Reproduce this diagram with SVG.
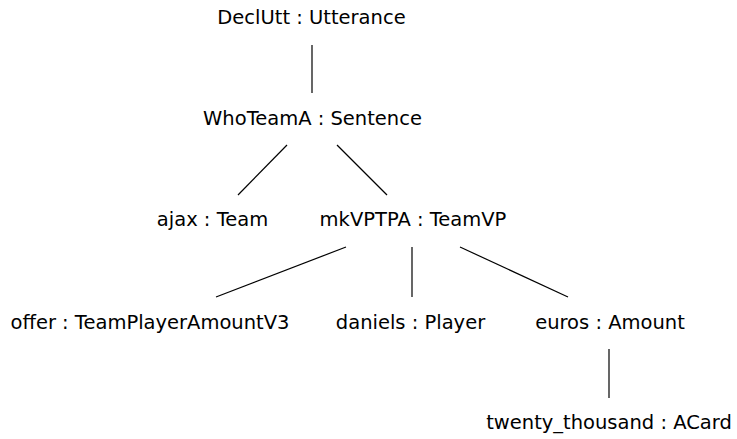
<svg xmlns="http://www.w3.org/2000/svg" width="737" height="439" viewBox="0 0 737 439">
  <style>
    text { font-family: "DejaVu Sans", sans-serif; font-size: 19.5px; fill: #000; text-anchor: middle; }
    .edge { stroke: #000; stroke-width: 1.2; fill: none; }
  </style>
  <rect width="737" height="439" fill="#fff"/>
  <!-- tree edges -->
  <g id="connectors">
    <line class="edge" x1="312" y1="45" x2="312" y2="93"/>
    <line class="edge" x1="287" y1="145" x2="238" y2="195"/>
    <line class="edge" x1="337" y1="145" x2="387" y2="195"/>
    <line class="edge" x1="346" y1="247" x2="216" y2="297"/>
    <line class="edge" x1="412" y1="247" x2="412" y2="297"/>
    <line class="edge" x1="460" y1="247" x2="568" y2="297"/>
    <line class="edge" x1="609" y1="349" x2="609" y2="398"/>
  </g>
  <!-- tree nodes -->
  <g id="declutt"><text x="311.5" y="24">DeclUtt : Utterance</text></g>
  <g id="whoteama"><text x="312.5" y="125">WhoTeamA : Sentence</text></g>
  <g id="ajax"><text x="212.5" y="226">ajax : Team</text></g>
  <g id="mkvptpa"><text x="413" y="226">mkVPTPA : TeamVP</text></g>
  <g id="offer"><text x="150" y="329">offer : TeamPlayerAmountV3</text></g>
  <g id="daniels"><text x="410.5" y="329">daniels : Player</text></g>
  <g id="euros"><text x="610" y="329">euros : Amount</text></g>
  <g id="twenty"><text x="609" y="429">twenty_thousand : ACard</text></g>
</svg>
